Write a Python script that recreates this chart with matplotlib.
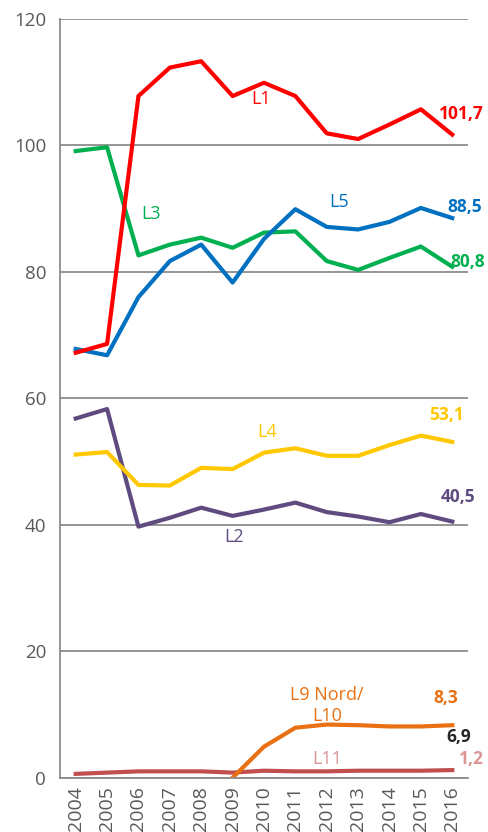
import matplotlib.pyplot as plt

years = list(range(2004, 2017))

l1 = [67.2, 68.6, 107.8, 112.3, 113.3, 107.8, 109.9, 107.8, 101.9, 101.0, 103.3, 105.7, 101.7]
l3 = [99.1, 99.7, 82.6, 84.3, 85.4, 83.8, 86.2, 86.4, 81.7, 80.3, 82.2, 84.0, 80.8]
l5 = [67.8, 66.8, 76.0, 81.7, 84.3, 78.3, 85.2, 89.9, 87.1, 86.7, 87.9, 90.1, 88.5]
l4 = [51.1, 51.5, 46.3, 46.2, 49.0, 48.8, 51.4, 52.1, 50.9, 50.9, 52.6, 54.1, 53.1]
l2 = [56.8, 58.3, 39.7, 41.1, 42.7, 41.4, 42.4, 43.5, 42.0, 41.3, 40.4, 41.7, 40.5]
l9_years = years[5:]
l9 = [0.0, 4.9, 7.9, 8.4, 8.3, 8.1, 8.1, 8.3]
l11 = [0.6, 0.8, 1.0, 1.0, 1.0, 0.8, 1.1, 1.0, 1.0, 1.1, 1.1, 1.1, 1.2]

plt.rcParams['font.family'] = ['Open Sans', 'DejaVu Sans']

fig = plt.figure(figsize=(4.89, 8.32), dpi=100)
ax = fig.add_axes([0.1227, 0.0653, 0.8343, 0.912])

lw = 3.0
ax.plot(years, l11, color='#C0504D', lw=lw)
ax.plot(l9_years, l9, color='#E97113', lw=lw)
ax.plot(years, l2, color='#5F4B7F', lw=lw)
ax.plot(years, l4, color='#FFC800', lw=lw)
ax.plot(years, l3, color='#00B050', lw=lw)
ax.plot(years, l5, color='#0070C0', lw=lw)
ax.plot(years, l1, color='#FF0000', lw=lw)

fs = 13
ax.text(2009.9, 107.3, 'L1', color='#FF0000', fontsize=fs, ha='center', va='center')
ax.text(2006.4, 89.2, 'L3', color='#00B050', fontsize=fs, ha='center', va='center')
ax.text(2012.4, 91.0, 'L5', color='#0070C0', fontsize=fs, ha='center', va='center')
ax.text(2010.1, 54.6, 'L4', color='#FFC800', fontsize=fs, ha='center', va='center')
ax.text(2009.05, 38.1, 'L2', color='#5F4B7F', fontsize=fs, ha='center', va='center')
ax.text(2012.0, 11.4, 'L9 Nord/\nL10', color='#E97113', fontsize=fs, ha='center', va='center',
        linespacing=1.2)
ax.text(2012.0, 3.0, 'L11', color='#D99694', fontsize=fs, ha='center', va='center')

bold = dict(fontsize=12.5, fontweight='bold', ha='center', va='center', clip_on=False)
ax.text(2016.3, 104.9, '101,7', color='#FF0000', **bold)
ax.text(2016.4, 90.3, '88,5', color='#0070C0', **bold)
ax.text(2016.5, 81.6, '80,8', color='#00B050', **bold)
ax.text(2015.8, 57.4, '53,1', color='#FFC800', **bold)
ax.text(2016.2, 44.4, '40,5', color='#5F4B7F', **bold)
ax.text(2015.8, 12.6, '8,3', color='#E97113', **bold)
ax.text(2016.2, 6.4, '6,9', color='#262626', **bold)
ax.text(2016.6, 3.0, '1,2', color='#D99694', **bold)

ax.set_xlim(2003.5, 2016.5)
ax.set_ylim(0, 120)
ax.set_yticks(range(0, 121, 20))
ax.set_xticks(years)
ax.set_xticklabels([str(y) for y in years], rotation=90)
ax.tick_params(axis='y', length=0, labelsize=13.5, colors='#595959', pad=10)
ax.tick_params(axis='x', length=0, labelsize=14, colors='#595959', pad=6)
ax.grid(axis='y', color='#8C8C8C', lw=1.3)
ax.set_axisbelow(True)
for s in ['top', 'right']:
    ax.spines[s].set_visible(False)
ax.spines['left'].set_color('#8C8C8C')
ax.spines['left'].set_linewidth(1.3)
ax.spines['bottom'].set_color('#8C8C8C')
ax.spines['bottom'].set_linewidth(1.3)

fig.savefig('out.png', dpi=100)
